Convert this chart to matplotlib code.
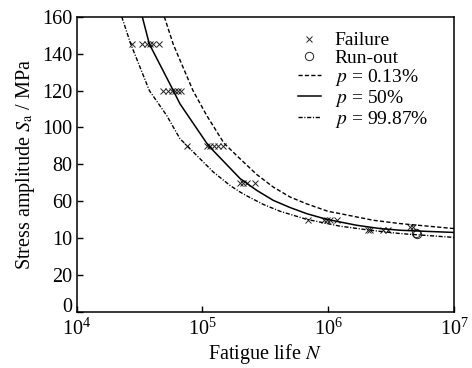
import numpy as np
import matplotlib
matplotlib.use("Agg")
import matplotlib.pyplot as plt
import matplotlib.transforms as mtransforms

plt.rcParams['font.family'] = ['Liberation Serif', 'DejaVu Serif']
plt.rcParams['mathtext.fontset'] = 'stix'
plt.rcParams['font.size'] = 14.5

# failure points (cycles, stress amplitude in MPa)
fail_n = [27.4e3, 33.0e3, 35.9e3, 38.3e3, 40.6e3, 45.4e3,
          48.8e3, 53.4e3, 56.9e3, 60.4e3, 64.3e3, 67.1e3,
          75.7e3, 109e3, 115e3, 123e3, 134e3, 146e3,
          199e3, 211e3, 224e3, 261e3,
          693e3, 925e3, 982e3, 1.03e6, 1.17e6,
          2.08e6, 2.15e6, 2.74e6, 3.0e6,
          4.47e6, 4.74e6]
fail_s = [145, 145, 145, 145, 145, 145,
          120, 120, 120, 120, 120, 120,
          90, 90, 90, 90, 90, 90,
          70, 70, 70, 70,
          50, 50, 50, 50, 50,
          44.5, 44.5, 44.5, 44.5,
          46, 46]

# run-out points
runout_n = [5.0e6, 5.05e6]
runout_s = [43, 42]

# P-S-N curves
p013_n = [49.7e3, 58.6e3, 84e3, 108e3, 148e3, 199e3, 270e3, 365e3, 497e3, 673e3,
          1.0e6, 1.24e6, 2.28e6, 3.72e6, 1e7]
p013_s = [160, 145, 120, 106.5, 91.5, 83, 74.5, 67.7, 62.3, 58.6,
          54.5, 53.3, 49.7, 47.9, 45.2]

p50_n = [33.2e3, 37.8e3, 58.6e3, 66.2e3, 111e3, 199e3, 270e3, 365e3, 497e3, 673e3,
         971e3, 1.68e6, 2.58e6, 3.72e6, 5.05e6, 1e7]
p50_s = [160, 145.2, 120, 112.8, 90.3, 72.3, 65.9, 60.5, 56.6, 53.3,
         50.2, 47.0, 45.2, 44.3, 43.9, 43.1]

p9987_n = [22.8e3, 26.9e3, 37.8e3, 51.9e3, 66.2e3, 74.8e3, 122e3, 166e3, 199e3,
           224e3, 304e3, 413e3, 673e3, 1.24e6, 2.15e6, 3.72e6, 1e7]
p9987_s = [160, 145.2, 120, 106.5, 93.9, 90.3, 75.8, 68.5, 65.0,
           63.0, 58.3, 54.6, 50.2, 46.5, 44.3, 42.5, 40.4]

y_ticks = [0, 20, 40, 60, 80, 100, 120, 140, 160]
y_tick_labels = ['0', '20', '10', '60', '80', '100', '120', '140', '160']

fig = plt.figure(figsize=(4.72, 3.68), dpi=100)
ax = fig.add_axes([0.1625, 0.1522, 0.962 - 0.1625, 0.9546 - 0.1522])

ax.plot(fail_n, fail_s, linestyle='none', marker='x', color='#222222',
        markersize=5, markeredgewidth=0.7, label='Failure')
ax.plot(runout_n, runout_s, linestyle='none', marker='o', color='#222222',
        markerfacecolor='none', markersize=6, markeredgewidth=0.7, label='Run-out')
ax.plot(p013_n, p013_s, color='black', lw=1.0, dashes=(3, 1.6), label='$p$ = 0.13%')
ax.plot(p50_n, p50_s, color='black', lw=1.1, label='$p$ = 50%')
ax.plot(p9987_n, p9987_s, color='black', lw=1.0, dashes=(3, 1.2, 0.8, 1.2),
        label='$p$ = 99.87%')

ax.set_xscale('log')
ax.set_xlim(1e4, 1e7)
ax.set_ylim(0, 160)
ax.set_xticks([1e4, 1e5, 1e6, 1e7])
ax.xaxis.set_minor_locator(matplotlib.ticker.NullLocator())
ax.set_yticks(y_ticks)
ax.set_yticklabels(y_tick_labels)
ax.tick_params(direction='in', length=4.5, width=1.0)
ax.tick_params(axis='x', pad=5)
ax.tick_params(axis='y', pad=3)
for sp in ax.spines.values():
    sp.set_linewidth(1.1)

# the "0" label sits a little above the x axis in the original
zero_lbl = ax.get_yticklabels()[0]
zero_lbl.set_transform(zero_lbl.get_transform() +
                       mtransforms.ScaledTranslation(0, 5 / 72, fig.dpi_scale_trans))

ax.set_xlabel('Fatigue life $N$', labelpad=1)
ax.set_ylabel('Stress amplitude $S_{\\mathrm{a}}$ / MPa', labelpad=4)

ax.legend(loc='upper left', bbox_to_anchor=(0.565, 0.975), frameon=False,
          handlelength=1.2, handletextpad=0.7, labelspacing=0.0,
          borderaxespad=0, fontsize=14)

fig.savefig('out.png', dpi=100)
